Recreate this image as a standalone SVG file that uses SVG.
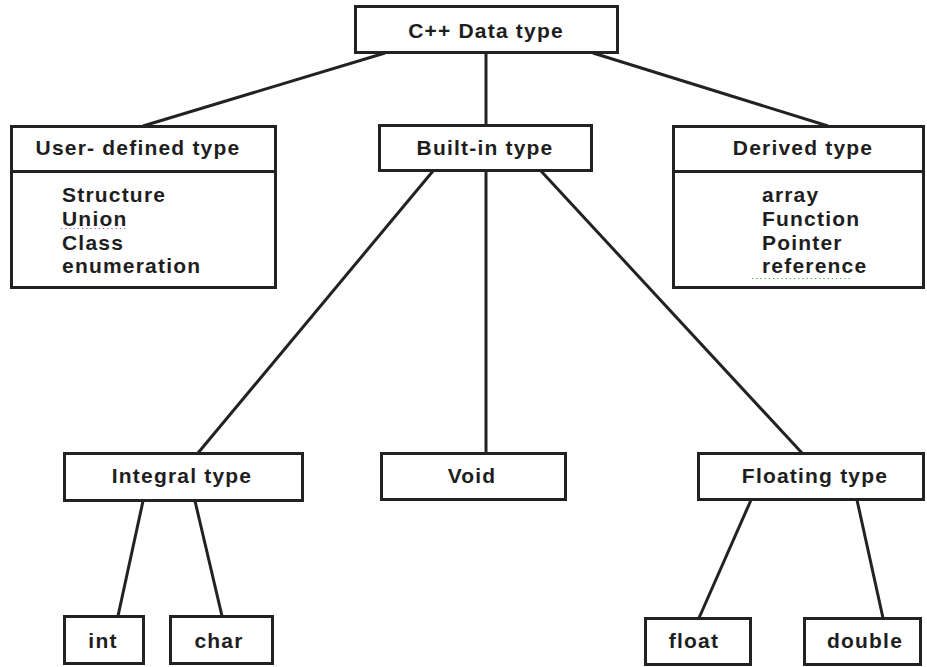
<svg xmlns="http://www.w3.org/2000/svg" width="927" height="667" viewBox="0 0 927 667">
  <style>
    .box { fill: #ffffff; stroke: #222222; stroke-width: 3; }
    .div { stroke: #222222; stroke-width: 3; }
    .edge { stroke: #222222; stroke-width: 3; fill: none; stroke-linecap: butt; }
    .lbl { font-family: "Liberation Sans", Arial, sans-serif; font-weight: bold; font-size: 21px; letter-spacing: 1.2px; fill: #1e1e1e; }
    .mid { text-anchor: middle; }
    .squig { stroke-width: 1.2; stroke-dasharray: 1.2 3; fill: none; }
  </style>
  <rect width="927" height="667" fill="#ffffff"/>

  <!-- connectors -->
  <g id="connectors">
    <line class="edge" x1="385" y1="53" x2="143" y2="126"/>
    <line class="edge" x1="486" y1="53" x2="486" y2="125"/>
    <line class="edge" x1="593" y1="53" x2="828" y2="126"/>
    <line class="edge" x1="433" y1="171" x2="198" y2="453"/>
    <line class="edge" x1="486" y1="171" x2="486" y2="453"/>
    <line class="edge" x1="541" y1="171" x2="802" y2="453"/>
    <line class="edge" x1="143" y1="501" x2="118" y2="616"/>
    <line class="edge" x1="195" y1="501" x2="222" y2="616"/>
    <line class="edge" x1="751" y1="500" x2="699" y2="618"/>
    <line class="edge" x1="857" y1="500" x2="883" y2="618"/>
  </g>

  <g id="cpp-data-type">
    <rect class="box" x="355.5" y="6.5" width="262" height="46"/>
    <text class="lbl mid" x="486" y="38">C++ Data type</text>
  </g>

  <g id="user-defined-type">
    <rect class="box" x="11.5" y="126.5" width="264" height="161"/>
    <line class="div" x1="11.5" y1="171.5" x2="275.5" y2="171.5"/>
    <text class="lbl mid" x="138" y="155">User- defined type</text>
    <text class="lbl" x="62" y="202">Structure</text>
    <text class="lbl" x="62" y="226">Union</text>
    <text class="lbl" x="62" y="250">Class</text>
    <text class="lbl" x="62" y="273">enumeration</text>
    <line class="squig" stroke="#d040d0" x1="61" y1="228.5" x2="128" y2="228.5"/>
  </g>

  <g id="built-in-type">
    <rect class="box" x="379.5" y="125.5" width="212" height="45"/>
    <text class="lbl mid" x="485" y="155">Built-in type</text>
  </g>

  <g id="derived-type">
    <rect class="box" x="673.5" y="126.5" width="250" height="161"/>
    <line class="div" x1="673.5" y1="171.5" x2="923.5" y2="171.5"/>
    <text class="lbl mid" x="803" y="155">Derived type</text>
    <text class="lbl" x="762" y="202">array</text>
    <text class="lbl" x="762" y="226">Function</text>
    <text class="lbl" x="762" y="250">Pointer</text>
    <text class="lbl" x="762" y="273">reference</text>
    <line class="squig" stroke="#30b030" x1="752" y1="278.5" x2="852" y2="278.5"/>
  </g>

  <g id="integral-type">
    <rect class="box" x="64.5" y="453.5" width="238" height="47"/>
    <text class="lbl mid" x="182" y="483">Integral type</text>
  </g>

  <g id="void">
    <rect class="box" x="381.5" y="453.5" width="184" height="46"/>
    <text class="lbl mid" x="472" y="483">Void</text>
  </g>

  <g id="floating-type">
    <rect class="box" x="698.5" y="453.5" width="225" height="46"/>
    <text class="lbl mid" x="815" y="483">Floating type</text>
  </g>

  <g id="int">
    <rect class="box" x="64.5" y="616.5" width="79" height="47"/>
    <text class="lbl mid" x="103" y="648">int</text>
  </g>

  <g id="char">
    <rect class="box" x="170.5" y="616.5" width="102" height="47"/>
    <text class="lbl mid" x="219" y="648">char</text>
  </g>

  <g id="float">
    <rect class="box" x="645.5" y="618.5" width="105" height="46"/>
    <text class="lbl mid" x="694" y="648">float</text>
  </g>

  <g id="double">
    <rect class="box" x="804.5" y="618.5" width="116" height="46"/>
    <text class="lbl mid" x="865" y="648">double</text>
  </g>
</svg>
